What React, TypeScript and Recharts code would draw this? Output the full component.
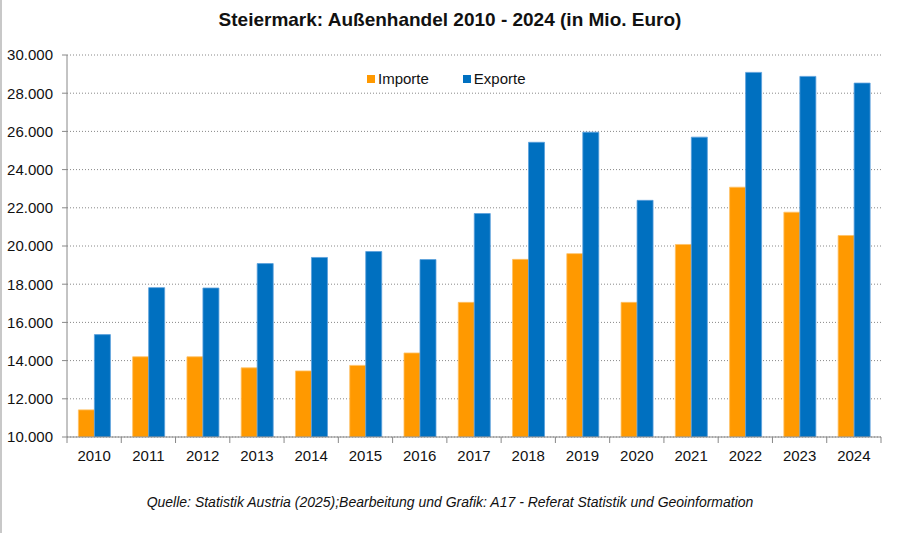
import React from 'react';
import { BarChart, Bar, XAxis, YAxis, CartesianGrid } from 'recharts';

const years = ['2010', '2011', '2012', '2013', '2014', '2015', '2016', '2017', '2018', '2019', '2020', '2021', '2022', '2023', '2024'];
const importe = [11420, 14200, 14200, 13620, 13460, 13750, 14400, 17050, 19300, 19600, 17050, 20080, 23080, 21770, 20550];
const exporte = [15360, 17820, 17800, 19080, 19400, 19710, 19290, 21700, 25430, 25960, 22390, 25700, 29090, 28880, 28530];
const yTicks = [10000, 12000, 14000, 16000, 18000, 20000, 22000, 24000, 26000, 28000, 30000];

const data = years.map((year, i) => ({ year, importe: importe[i], exporte: exporte[i] }));

const W = 900;
const H = 533;
const M = { top: 55, right: 19, bottom: 66, left: 5 };
const Y_AXIS_W = 60;
const band = (W - 2 - M.left - M.right - Y_AXIS_W) / years.length;

const ORANGE = '#FF9900';
const BLUE = '#0070C0';
const FONT = '"Liberation Sans", Arial, sans-serif';

const fmt = (v: number) => {
  const s = String(Math.round(v));
  return s.replace(/\B(?=(\d{3})+(?!\d))/g, '.');
};

// ticks sit between categories in the original, so draw them by hand
const XTick = (props: any) => {
  const { x, y, payload, index } = props;
  const last = index === years.length - 1;
  return (
    <g>
      <line x1={x - band / 2} x2={x - band / 2} y1={y} y2={y + 6} stroke="#888" />
      {last && <line x1={x + band / 2} x2={x + band / 2} y1={y} y2={y + 6} stroke="#888" />}
      <text x={x} y={y + 24} textAnchor="middle" fontSize={15} fill="#111" fontFamily={FONT}>
        {payload.value}
      </text>
    </g>
  );
};

export default function App() {
  return (
    <div style={{ position: 'absolute', left: 0, top: 0, width: W, height: H, background: '#fff', borderLeft: '2px solid #c8c8c8', boxSizing: 'border-box' }}>
      <div style={{ position: 'absolute', top: 9, left: -2, width: W, textAlign: 'center', fontFamily: FONT, fontWeight: 'bold', fontSize: 19, color: '#111' }}>
        Steiermark: Außenhandel 2010 - 2024 (in Mio. Euro)
      </div>
      <div style={{ position: 'absolute', top: 70, left: 365, display: 'flex', gap: 34, fontFamily: FONT, fontSize: 15, color: '#111' }}>
        <span style={{ display: 'flex', alignItems: 'center' }}>
          <span style={{ width: 8, height: 8, background: ORANGE, marginRight: 3 }} />Importe
        </span>
        <span style={{ display: 'flex', alignItems: 'center' }}>
          <span style={{ width: 8, height: 8, background: BLUE, marginRight: 3 }} />Exporte
        </span>
      </div>
      <BarChart width={W - 2} height={H} data={data} margin={M} barCategoryGap="21%" barGap={0}>
        <CartesianGrid vertical={false} stroke="#888" strokeDasharray="1 2" />
        <XAxis dataKey="year" tick={<XTick />} tickLine={false} tickSize={0} tickMargin={0} stroke="#888" interval={0} />
        <YAxis
          width={Y_AXIS_W}
          domain={[10000, 30000]}
          ticks={yTicks}
          tickFormatter={fmt}
          tickSize={5}
          tickMargin={9}
          stroke="#888"
          tick={{ fill: '#111', fontSize: 15, fontFamily: FONT }}
          interval={0}
          allowDataOverflow
        />
        <Bar dataKey="importe" name="Importe" fill={ORANGE} stroke="#ffc266" strokeWidth={0.8} isAnimationActive={false} />
        <Bar dataKey="exporte" name="Exporte" fill={BLUE} stroke="#5aa0dc" strokeWidth={0.8} isAnimationActive={false} />
      </BarChart>
      <div style={{ position: 'absolute', top: 494, left: -2, width: W, textAlign: 'center', fontFamily: FONT, fontStyle: 'italic', fontSize: 14, color: '#111' }}>
        Quelle: Statistik Austria (2025);Bearbeitung und Grafik: A17 - Referat Statistik und Geoinformation
      </div>
    </div>
  );
}
